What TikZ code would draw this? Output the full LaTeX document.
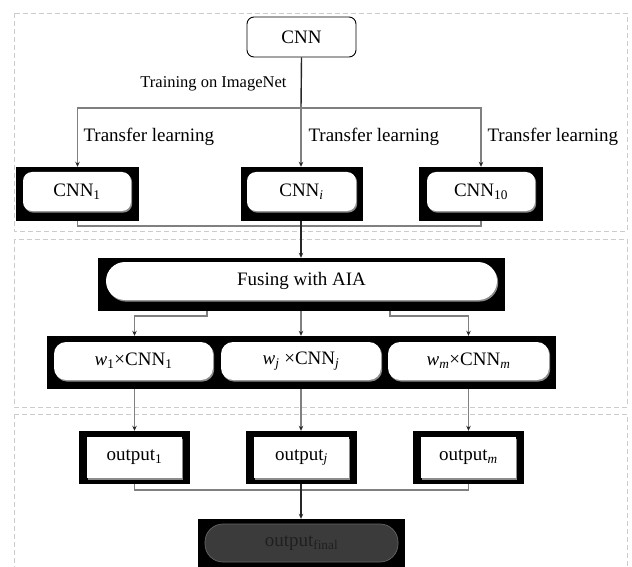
\documentclass[tikz,border=0pt]{standalone}
\usepackage{fontspec}
\setmainfont{Liberation Serif}
\usetikzlibrary{arrows.meta,shadows}
\begin{document}
\begin{tikzpicture}[x=1pt,y=-1pt,
  panel/.style={draw=black!20, dash pattern=on 5pt off 3pt, line width=0.9pt},
  blackbox/.style={fill=black, draw=none, inner sep=0pt},
  softbox/.style={fill=white, draw=none, inner sep=0pt, text=black,
    drop shadow={shadow xshift=1.2pt, shadow yshift=-1.6pt, fill=black!45, opacity=1}},
  txt/.style={font=\fontsize{19}{22}\selectfont},
  small/.style={font=\fontsize{16.5}{19}\selectfont},
  trunk/.style={draw=black!85, line width=1.4pt},
  branch/.style={draw=black!50, line width=1.2pt},
  tip/.style={-{Stealth[length=5pt,width=4.5pt,color=black!85]}},
]
\useasboundingbox (0,0) rectangle (632,567);

% stage panels
\draw[panel] (14,13) rectangle (627,231);
\draw[panel] (14,239) rectangle (627,407);
\draw[panel] (14,414) -- (14,570) (14,414) -- (627,414) -- (627,570);

% pretrained network
\node[draw=black, line width=0.9pt, rounded corners=7pt, fill=white,
      minimum width=109pt, minimum height=40pt, txt] (cnn) at (301.5,37) {CNN};
\node[small, anchor=east] (train) at (290,84) {Training on ImageNet};

% transferred networks
\node[blackbox, minimum width=123pt, minimum height=54pt] (c1box) at (77.5,194) {};
\node[softbox, rounded corners=9pt, minimum width=108pt, minimum height=39pt, txt] (c1) at (77,191.5) {CNN\textsubscript{1}};
\node[blackbox, minimum width=122pt, minimum height=54pt] (cibox) at (302,194) {};
\node[softbox, rounded corners=9pt, minimum width=109pt, minimum height=39pt, txt] (ci) at (301.5,191.5) {CNN\textsubscript{\textit{i}}};
\node[blackbox, minimum width=124pt, minimum height=54pt] (ctbox) at (481,194) {};
\node[softbox, rounded corners=9pt, minimum width=108pt, minimum height=39pt, txt] (ct) at (481,191.5) {CNN\textsubscript{10}};

\node[txt, anchor=west] (tl1) at (80,137) {Transfer learning};
\node[txt, anchor=west] (tl2) at (305,137) {Transfer learning};
\node[txt, anchor=west] (tl3) at (484,137) {Transfer learning};

\coordinate (bus1) at (301,108);
\draw[trunk] (cnn.south) -- (bus1);
\draw[branch, tip] (bus1) -| (c1box.north);
\draw[branch, tip] (bus1) -| (ctbox.north);
\draw[branch, tip] (bus1) -- (bus1 |- cibox.north);

% fusion
\node[blackbox, minimum width=407pt, minimum height=53pt] (fusebox) at (301.5,284.5) {};
\node[softbox, rounded corners=19pt, minimum width=391pt, minimum height=38pt, txt] (fuse) at (301.5,281) {Fusing with AIA};

\coordinate (bus2) at (301,226);
\draw[branch] (c1box.south) |- (bus2) -| (ctbox.south);
\draw[trunk, tip] (bus1 |- cibox.south) -- (bus1 |- fusebox.north);

% weighted networks
\node[blackbox, minimum width=509pt, minimum height=53pt] (wbox) at (301.5,362.5) {};
\node[softbox, rounded corners=12pt, minimum width=159pt, minimum height=38pt, txt] (w1) at (133.5,361) {\textit{w}\textsubscript{1}×CNN\textsubscript{1}};
\node[softbox, rounded corners=12pt, minimum width=160pt, minimum height=38pt, txt] (wj) at (301,361) {\textit{w\textsubscript{j}} ×CNN\textsubscript{\textit{j}}};
\node[softbox, rounded corners=12pt, minimum width=161pt, minimum height=38pt, txt] (wm) at (468.5,361) {\textit{w\textsubscript{m}}×CNN\textsubscript{\textit{m}}};

% outputs
\node[blackbox, minimum width=111pt, minimum height=53pt] (o1box) at (134.5,457.5) {};
\node[softbox, minimum width=95pt, minimum height=41pt, txt] (o1) at (134.5,457.5) {output\textsubscript{1}};
\node[blackbox, minimum width=111pt, minimum height=53pt] (ojbox) at (301.5,457.5) {};
\node[softbox, minimum width=95pt, minimum height=41pt, txt] (oj) at (301.5,457.5) {output\textsubscript{\textit{j}}};
\node[blackbox, minimum width=111pt, minimum height=53pt] (ombox) at (468.5,457.5) {};
\node[softbox, minimum width=95pt, minimum height=41pt, txt] (om) at (468.5,457.5) {output\textsubscript{\textit{m}}};

\coordinate (fl) at (207,316);
\coordinate (fr) at (390,316);
\draw[branch, tip] (fl |- fusebox.south) -- (fl) -| (o1box.north |- wbox.north);
\draw[branch, tip] (fr |- fusebox.south) -- (fr) -| (ombox.north |- wbox.north);
\draw[branch, tip] (bus1 |- fusebox.south) -- (bus1 |- wbox.north);

\draw[branch, tip] (o1box.north |- wbox.south) -- (o1box.north);
\draw[branch, tip] (bus1 |- wbox.south) -- (bus1 |- ojbox.north);
\draw[branch, tip] (ombox.north |- wbox.south) -- (ombox.north);

% final decision
\node[blackbox, minimum width=207pt, minimum height=50pt] (finbox) at (301.5,544) {};
\node[fill=black!77, draw=black!60, line width=0.7pt, rounded corners=18pt,
      minimum width=193pt, minimum height=38pt, inner sep=0pt, txt, text=black!88] (fin) at (301.5,543) {output\textsubscript{final}};

\coordinate (bus3) at (301,490);
\draw[branch] (o1box.south) |- (bus3) -| (ombox.south);
\draw[trunk, tip] (bus1 |- ojbox.south) -- (bus1 |- finbox.north);
\end{tikzpicture}
\end{document}
